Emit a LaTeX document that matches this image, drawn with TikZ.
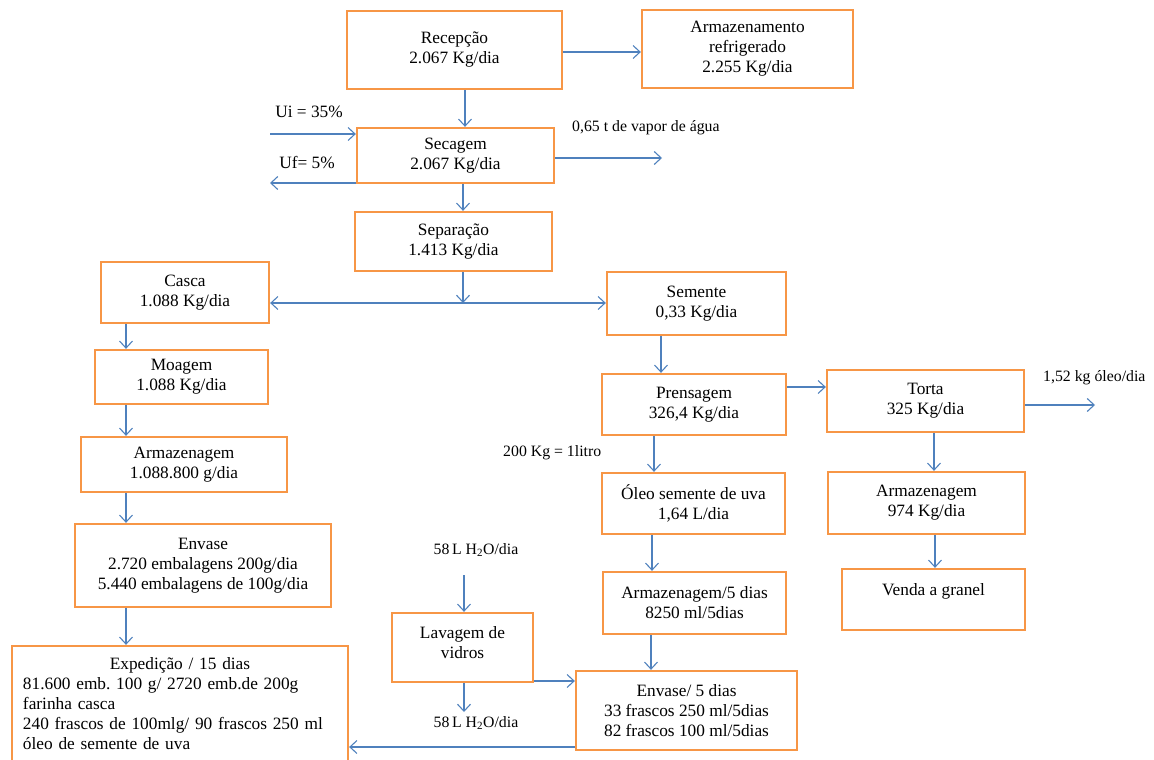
\documentclass[tikz,border=0pt]{standalone}
\usepackage{fontspec}
\setmainfont{Liberation Serif}
\usetikzlibrary{arrows.meta}
\frenchspacing
\definecolor{boxorange}{HTML}{F79646}
\definecolor{flowblue}{HTML}{4F81BD}
\tikzset{
  box/.style={draw=boxorange, line width=2.3pt, fill=white, align=center, inner sep=2pt,
    font=\fontsize{17.3}{20}\selectfont},
  flow/.style={draw=flowblue, line width=1.1pt, -{Straight Barb[length=7pt,width=13pt]}},
  flowboth/.style={draw=flowblue, line width=1.1pt, {Straight Barb[length=7pt,width=13pt]}-{Straight Barb[length=7pt,width=13pt]}},
  lbl/.style={inner sep=0pt, font=\fontsize{17.3}{20}\selectfont},
  smalllbl/.style={inner sep=0pt, font=\fontsize{15.8}{18}\selectfont},
}
\begin{document}
\begin{tikzpicture}[x=1pt,y=-1pt]
\useasboundingbox (0,0) rectangle (1154,760);
% boxes
\node[box, minimum width=215, minimum height=78] (rec) at (454.5,50) {Recepção\\2.067 Kg/dia};
\node[box, minimum width=211, minimum height=78] (arm) at (747.5,49) {Armazenamento\\refrigerado\\2.255 Kg/dia};
\node[box, minimum width=197, minimum height=55] (sec) at (455.5,155.5) {Secagem\\2.067 Kg/dia};
\node[box, minimum width=197, minimum height=59] (sep) at (453.5,241.5) {Separação\\1.413 Kg/dia};
\node[box, minimum width=168, minimum height=61] (casca) at (185,292.5) {Casca\\1.088 Kg/dia};
\node[box, minimum width=179, minimum height=63] (sem) at (696.5,303.5) {Semente\\0,33 Kg/dia};
\node[box, minimum width=173, minimum height=54] (moa) at (181.5,377) {Moagem\\1.088 Kg/dia};
\node[box, minimum width=206, minimum height=55] (armz) at (184,464.5) {Armazenagem\\1.088.800 g/dia};
\node[box, minimum width=184, minimum height=61] (prens) at (694,404.5) {Prensagem\\326,4 Kg/dia};
\node[box, minimum width=197, minimum height=62] (torta) at (925.5,401) {Torta\\325 Kg/dia};
\node[box, minimum width=183, minimum height=61] (oleo) at (693.5,503.5) {Óleo semente de uva\\1,64 L/dia};
\node[box, minimum width=197, minimum height=62] (armt) at (926.5,503) {Armazenagem\\974 Kg/dia};
\node[box, minimum width=183, minimum height=62] (arm5) at (694.5,603) {Armazenagem/5 dias\\8250 ml/5dias};
\node[box, minimum width=183, minimum height=61] (venda) at (933.5,599.5) {Venda a granel\\\phantom{x}};
\node[box, minimum width=256, minimum height=83] (env) at (203,565.5) {Envase\\2.720 embalagens 200g/dia\\5.440 embalagens de 100g/dia};
\node[box, minimum width=141, minimum height=69] (lav) at (462.5,647.5) {Lavagem de\\vidros\\[-10pt]\phantom{x}};
\node[box, minimum width=221, minimum height=79] (env5) at (686.5,710.5) {Envase/ 5 dias\\33 frascos 250 ml/5dias\\82 frascos 100 ml/5dias};
\node[box, minimum width=336, minimum height=116, text width=314, inner xsep=11pt, align=left] (exp) at (180,704)
  {\makebox[\linewidth]{Expedição / 15 dias}\\81.600 emb. 100 g/ 2720 emb.de 200g\\farinha casca\\240 frascos de 100mlg/ 90 frascos 250 ml\\óleo de semente de uva};
% labels
\node[lbl] (ui) at (309,112) {Ui = 35\%};
\node[lbl] (uf) at (307,163) {Uf= 5\%};
\node[smalllbl, anchor=west] (vap) at (572,128) {0,65 t de vapor de água};
\node[smalllbl, anchor=west] (oleoout) at (1043,378) {1,52 kg óleo/dia};
\node[smalllbl, anchor=west] (litro) at (503,453) {200 Kg = 1litro};
\node[smalllbl] (aguain) at (476,550) {58\,L H\textsubscript{2}O/dia};
\node[smalllbl] (aguaout) at (476,723) {58\,L H\textsubscript{2}O/dia};
% coordinates
\coordinate (uiS) at (270,134);
\coordinate (ufE) at (270,183);
\coordinate (vapE) at (662,158);
\coordinate (junc) at (463,303);
\coordinate (oleoE) at (1095,405);
\coordinate (aguaS) at (464,575);
\coordinate (aguaE) at (464,712);
% connectors
\draw[flow] (rec.east |- 0,52) -- (arm.west |- 0,52);
\draw[flow] (465,0 |- rec.south) -- (465,0 |- sec.north);
\draw[flow] (uiS) -- (uiS -| sec.west);
\draw[flow] (sec.west |- ufE) -- (ufE);
\draw[flow] (sec.east |- vapE) -- (vapE);
\draw[flow] (463,0 |- sec.south) -- (463,0 |- sep.north);
\draw[flow] (junc |- sep.south) -- (junc);
\draw[flowboth] (casca.east |- junc) -- (sem.west |- junc);
\draw[flow] (126,0 |- casca.south) -- (126,0 |- moa.north);
\draw[flow] (126,0 |- moa.south) -- (126,0 |- armz.north);
\draw[flow] (126,0 |- armz.south) -- (126,0 |- env.north);
\draw[flow] (126,0 |- env.south) -- (126,0 |- exp.north);
\draw[flow] (661,0 |- sem.south) -- (661,0 |- prens.north);
\draw[flow] (prens.east |- 0,387) -- (torta.west |- 0,387);
\draw[flow] (torta.east |- oleoE) -- (oleoE);
\draw[flow] (654,0 |- prens.south) -- (654,0 |- oleo.north);
\draw[flow] (652,0 |- oleo.south) -- (652,0 |- arm5.north);
\draw[flow] (651,0 |- arm5.south) -- (651,0 |- env5.north);
\draw[flow] (934,0 |- torta.south) -- (934,0 |- armt.north);
\draw[flow] (935,0 |- armt.south) -- (935,0 |- venda.north);
\draw[flow] (aguaS) -- (aguaS |- lav.north);
\draw[flow] (aguaS |- lav.south) -- (aguaE);
\draw[flow] (lav.east |- 0,681) -- (env5.west |- 0,681);
\draw[flow] (env5.west |- 0,747) -- (exp.east |- 0,747);
\end{tikzpicture}
\end{document}
